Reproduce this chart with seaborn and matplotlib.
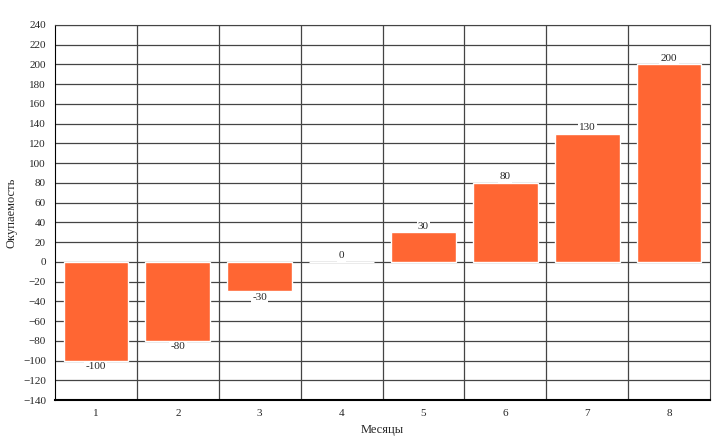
import matplotlib
matplotlib.use("Agg")
import matplotlib.pyplot as plt
import seaborn as sns
import pandas as pd

months = ["1", "2", "3", "4", "5", "6", "7", "8"]
payback = [-100, -80, -30, 0, 30, 80, 130, 200]

sns.set_style("white")
plt.rcParams['font.family'] = ['Liberation Serif', 'DejaVu Serif']

df = pd.DataFrame({"m": months, "v": payback})
fig = plt.figure(figsize=(7.2, 4.43), dpi=100)
ax = fig.add_axes([55/720, 1-400/443, 655/720, 375/443])
sns.barplot(data=df, x="m", y="v", color="#FF6633", saturation=1, width=0.79, ax=ax, zorder=3)
ax.set_ylim(-140, 240)
ax.set_xlim(-0.5, len(months) - 0.5)
ax.set_yticks(range(-140, 241, 20))
ax.set_xticks([i + 0.5 for i in range(len(months) - 1)], minor=True)
ax.grid(True, axis="y", color="#444444", lw=0.9, zorder=0)
ax.grid(True, axis="x", which="minor", color="#444444", lw=0.9, zorder=0)
ax.set_axisbelow(True)
for s in ax.spines.values():
    s.set_color("#444444")
ax.spines["bottom"].set_color("black")
ax.spines["bottom"].set_linewidth(1.5)
ax.spines["left"].set_color("black")
ax.tick_params(axis="both", labelsize=8, length=3, color="black", direction="out")
ax.tick_params(axis="x", which="minor", length=3)
ax.set_xlabel("Месяцы", fontsize=9)
ax.set_ylabel("Окупаемость", fontsize=9)
for i, v in enumerate(payback):
    y = v + 6 if v >= 0 else v - 6
    ax.text(i, y, str(v), ha="center", va="center", fontsize=8, zorder=5,
            bbox=dict(facecolor="white", edgecolor="none", pad=1))
fig.savefig("out.png", dpi=100)
